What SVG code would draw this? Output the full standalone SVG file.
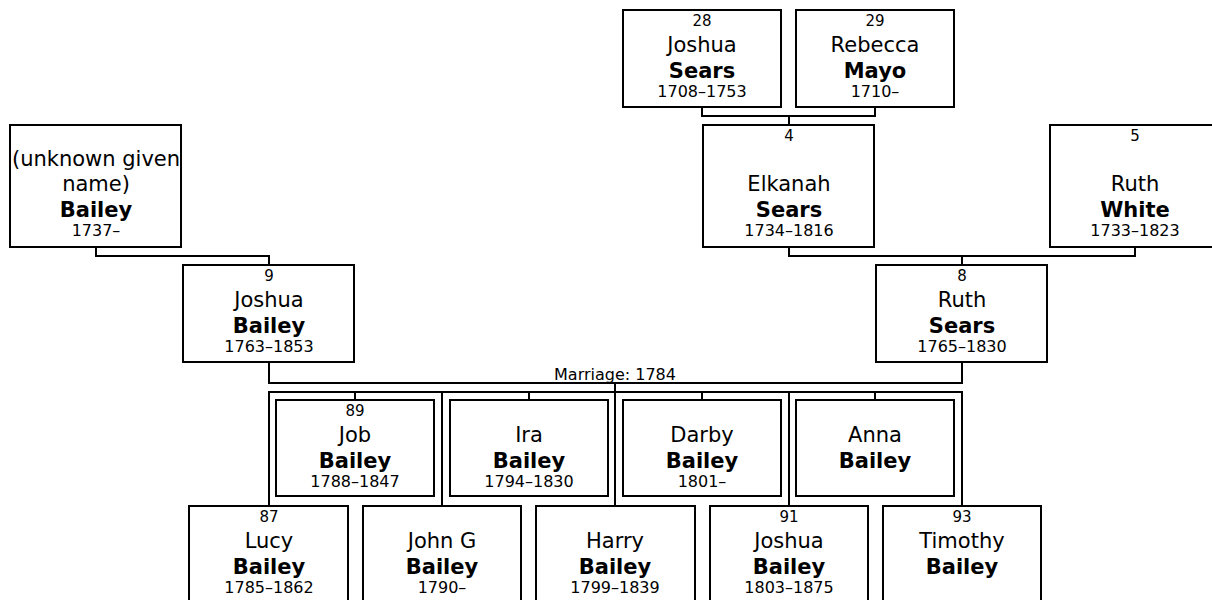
<svg xmlns="http://www.w3.org/2000/svg" width="1212" height="600" viewBox="0 0 1212 600">
<style>
.box{fill:#fff;stroke:#000;stroke-width:2}
.ln{fill:none;stroke:#000;stroke-width:2}
text{font-family:"DejaVu Sans",Verdana,sans-serif;text-anchor:middle;fill:#000}
.n{font-size:15px}
.g{font-size:21px}
.s{font-size:21px;font-weight:bold}
.d{font-size:16px}
.m{font-size:16px}
</style>
<rect width="1212" height="600" fill="#fff"/>
<g id="connectors">
<path class="ln" d="M702,107V116H875V107M789,116V125"/>
<path class="ln" d="M789,247V256H1135V247M962,256V265"/>
<path class="ln" d="M96,247V256H269V265"/>
<path class="ln" d="M269,362V383H962V362M615,383V392"/>
<path class="ln" d="M269,505V392H962V505M442,392V505M615,392V505M789,392V505"/>
<path class="ln" d="M355,392V400M529,392V400M702,392V400M875,392V400"/>
<text class="m" x="615" y="380">Marriage: 1784</text>
</g>
<g id="p28"><rect class="box" x="623" y="10" width="158" height="97"/>
<text class="n" x="702" y="26">28</text><text class="g" x="702" y="52">Joshua</text><text class="s" x="702" y="78">Sears</text><text class="d" x="702" y="97">1708–1753</text></g>
<g id="p29"><rect class="box" x="796" y="10" width="158" height="97"/>
<text class="n" x="875" y="26">29</text><text class="g" x="875" y="52">Rebecca</text><text class="s" x="875" y="78">Mayo</text><text class="d" x="875" y="97">1710–</text></g>
<g id="pU"><rect class="box" x="10" y="125" width="171" height="122"/>
<text class="g" x="96" y="166">(unknown given</text><text class="g" x="96" y="191">name)</text><text class="s" x="96" y="217">Bailey</text><text class="d" x="96" y="236">1737–</text></g>
<g id="p4"><rect class="box" x="703" y="125" width="171" height="122"/>
<text class="n" x="789" y="141">4</text><text class="g" x="789" y="191">Elkanah</text><text class="s" x="789" y="217">Sears</text><text class="d" x="789" y="236">1734–1816</text></g>
<g id="p5"><rect class="box" x="1050" y="125" width="171" height="122"/>
<text class="n" x="1135" y="141">5</text><text class="g" x="1135" y="191">Ruth</text><text class="s" x="1135" y="217">White</text><text class="d" x="1135" y="236">1733–1823</text></g>
<g id="p9"><rect class="box" x="183" y="265" width="171" height="97"/>
<text class="n" x="269" y="281">9</text><text class="g" x="269" y="307">Joshua</text><text class="s" x="269" y="333">Bailey</text><text class="d" x="269" y="352">1763–1853</text></g>
<g id="p8"><rect class="box" x="876" y="265" width="171" height="97"/>
<text class="n" x="962" y="281">8</text><text class="g" x="962" y="307">Ruth</text><text class="s" x="962" y="333">Sears</text><text class="d" x="962" y="352">1765–1830</text></g>
<g id="p89"><rect class="box" x="276" y="400" width="158" height="96"/>
<text class="n" x="355" y="416">89</text><text class="g" x="355" y="442">Job</text><text class="s" x="355" y="468">Bailey</text><text class="d" x="355" y="487">1788–1847</text></g>
<g id="pIra"><rect class="box" x="450" y="400" width="158" height="96"/>
<text class="g" x="529" y="442">Ira</text><text class="s" x="529" y="468">Bailey</text><text class="d" x="529" y="487">1794–1830</text></g>
<g id="pDarby"><rect class="box" x="623" y="400" width="158" height="96"/>
<text class="g" x="702" y="442">Darby</text><text class="s" x="702" y="468">Bailey</text><text class="d" x="702" y="487">1801–</text></g>
<g id="pAnna"><rect class="box" x="796" y="400" width="158" height="96"/>
<text class="g" x="875" y="442">Anna</text><text class="s" x="875" y="468">Bailey</text></g>
<g id="p87"><rect class="box" x="189" y="506" width="159" height="97"/>
<text class="n" x="269" y="522">87</text><text class="g" x="269" y="548">Lucy</text><text class="s" x="269" y="574">Bailey</text><text class="d" x="269" y="593">1785–1862</text></g>
<g id="pJohnG"><rect class="box" x="363" y="506" width="158" height="97"/>
<text class="g" x="442" y="548">John G</text><text class="s" x="442" y="574">Bailey</text><text class="d" x="442" y="593">1790–</text></g>
<g id="pHarry"><rect class="box" x="536" y="506" width="159" height="97"/>
<text class="g" x="615" y="548">Harry</text><text class="s" x="615" y="574">Bailey</text><text class="d" x="615" y="593">1799–1839</text></g>
<g id="p91"><rect class="box" x="710" y="506" width="158" height="97"/>
<text class="n" x="789" y="522">91</text><text class="g" x="789" y="548">Joshua</text><text class="s" x="789" y="574">Bailey</text><text class="d" x="789" y="593">1803–1875</text></g>
<g id="p93"><rect class="box" x="883" y="506" width="158" height="97"/>
<text class="n" x="962" y="522">93</text><text class="g" x="962" y="548">Timothy</text><text class="s" x="962" y="574">Bailey</text></g>
</svg>
